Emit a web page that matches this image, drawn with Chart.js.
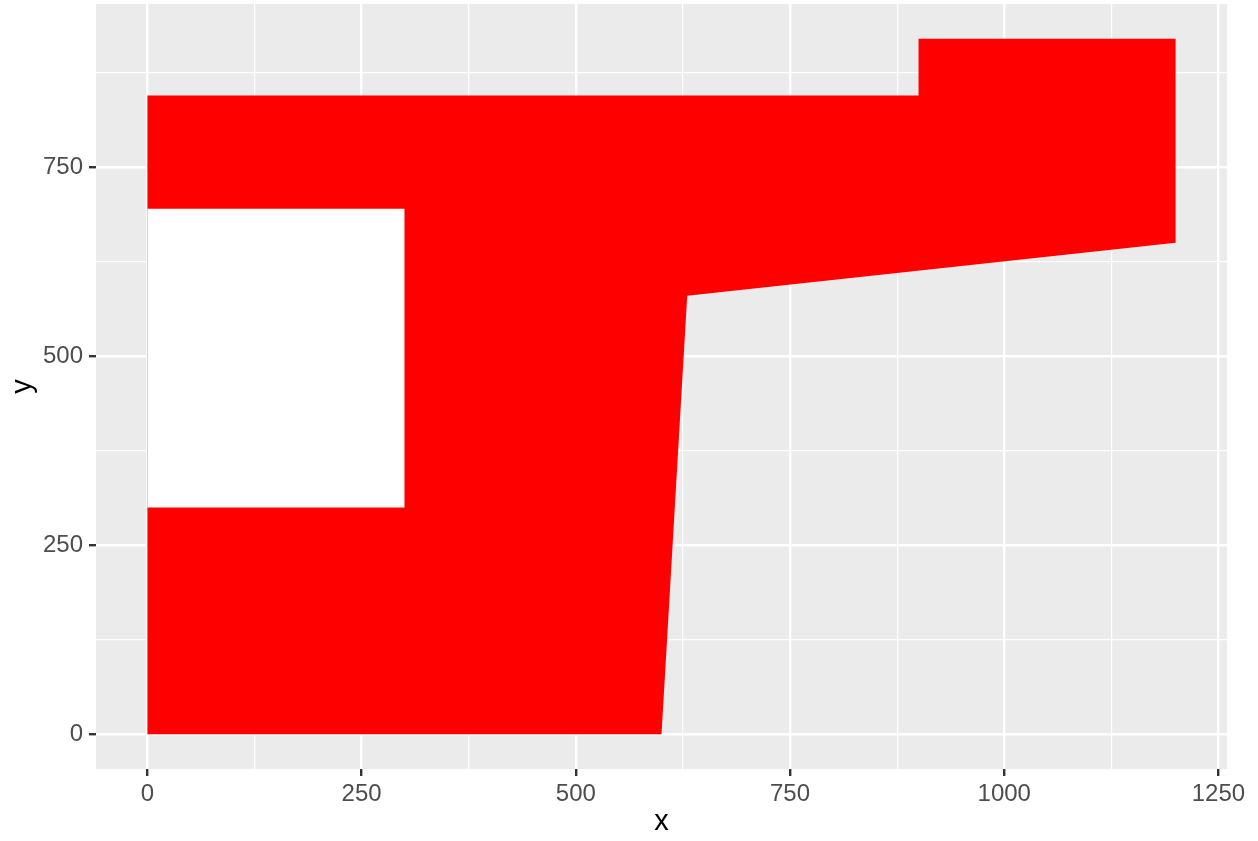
<!DOCTYPE html>
<html>
<head>
<meta charset="utf-8">
<script src="https://cdn.jsdelivr.net/npm/chart.js@4/dist/chart.umd.min.js"></script>
<style>
  body { margin: 0; background: #fff; }
  #wrap { width: 1258px; height: 841px; }
</style>
</head>
<body>
<div id="wrap"><canvas id="polyChart"></canvas></div>
<script>
// outer shape, walked in order and closed
const outerX = [0, 600, 630, 1200, 1200, 900, 900, 0, 0];
const outerY = [0, 0, 580, 650, 920, 920, 845, 845, 0];
// hole (drawn white on top)
const holeX = [0, 300, 300, 0, 0];
const holeY = [300, 300, 695, 695, 300];

const xMajor = [0, 250, 500, 750, 1000, 1250];
const xMinor = [125, 375, 625, 875, 1125];
const yMajor = [0, 250, 500, 750];
const yMinor = [125, 375, 625, 875];

const toPoints = (xs, ys) => xs.map((x, i) => ({ x: x, y: ys[i] }));
const allTicks = (a, b) => a.concat(b).sort((p, q) => p - q).map(v => ({ value: v }));

const panelBg = {
  id: 'panelBg',
  beforeDraw(chart) {
    const { ctx, chartArea: a } = chart;
    ctx.save();
    ctx.fillStyle = '#EBEBEB';
    ctx.fillRect(a.left, a.top, a.right - a.left, a.bottom - a.top);
    ctx.restore();
  }
};

function gridOpts(major) {
  return {
    color: '#FFFFFF',
    lineWidth: c => major.includes(c.tick.value) ? 2.4 : 1.2,
    drawTicks: true,
    tickLength: 7,
    tickWidth: 2.4,
    tickColor: c => major.includes(c.tick.value) ? '#333333' : 'rgba(0,0,0,0)'
  };
}

const tickFont = { family: 'Liberation Sans, Arial, sans-serif', size: 24 };
const titleFont = { family: 'Liberation Sans, Arial, sans-serif', size: 29, lineHeight: 1.2 };

new Chart(document.getElementById('polyChart'), {
  type: 'line',
  data: {
    datasets: [
      {
        data: toPoints(holeX, holeY),
        backgroundColor: '#FFFFFF',
        borderColor: 'rgba(0,0,0,0)',
        borderWidth: 0,
        fill: 'shape',
        pointRadius: 0,
        tension: 0,
        order: 0
      },
      {
        data: toPoints(outerX, outerY),
        backgroundColor: '#FF0000',
        borderColor: 'rgba(0,0,0,0)',
        borderWidth: 0,
        fill: 'shape',
        pointRadius: 0,
        tension: 0,
        order: 1
      }
    ]
  },
  options: {
    responsive: true,
    maintainAspectRatio: false,
    animation: false,
    events: [],
    layout: { padding: { top: 4, right: 31, left: 0, bottom: 0 } },
    plugins: { legend: { display: false }, tooltip: { enabled: false } },
    scales: {
      x: {
        type: 'linear',
        min: -60,
        max: 1260,
        afterBuildTicks: s => { s.ticks = allTicks(xMajor, xMinor); },
        afterFit: s => { s.height = 72; s.paddingLeft = 0; s.paddingRight = 0; },
        border: { display: false },
        grid: gridOpts(xMajor),
        ticks: {
          autoSkip: false,
          maxRotation: 0,
          padding: 4,
          color: '#4D4D4D',
          font: tickFont,
          callback: v => xMajor.includes(v) ? String(v) : ''
        },
        title: { display: true, text: 'x', color: '#000000', font: titleFont, padding: { top: 0, bottom: 2 } }
      },
      y: {
        type: 'linear',
        min: -46,
        max: 966,
        afterBuildTicks: s => { s.ticks = allTicks(yMajor, yMinor); },
        afterFit: s => { s.width = 96; s.paddingTop = 0; s.paddingBottom = 0; },
        border: { display: false },
        grid: gridOpts(yMajor),
        ticks: {
          autoSkip: false,
          padding: 6,
          color: '#4D4D4D',
          font: tickFont,
          callback: v => yMajor.includes(v) ? String(v) : ''
        },
        title: { display: true, text: 'y', color: '#000000', font: titleFont, padding: { top: 6, bottom: 0 } }
      }
    }
  },
  plugins: [panelBg]
});
</script>
</body>
</html>
